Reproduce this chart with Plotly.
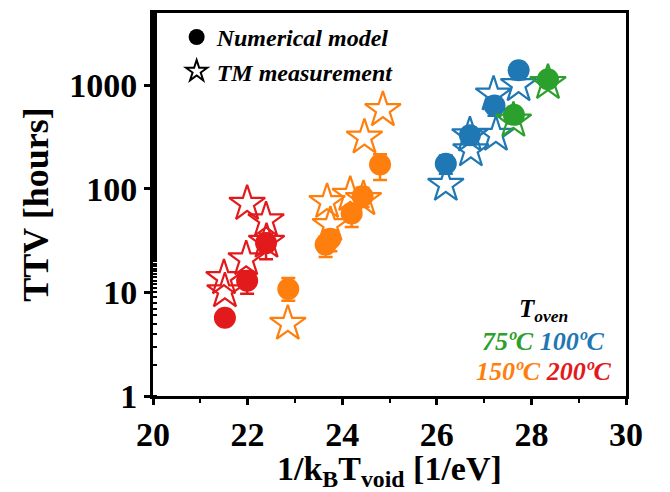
import plotly.graph_objects as go

# ---------------- data ----------------
# Numerical model (circles): x = 1/kBT_void, y = TTV [hours], error up/down
red_model_x = [21.52, 21.99, 22.39]
red_model_y = [5.7, 13.0, 30.0]
red_model_up = [0.8, 3.0, 7.0]
red_model_dn = [0.8, 3.3, 9.0]

orange_model_x = [22.86, 23.65, 23.75, 24.20, 24.43, 24.80]
orange_model_y = [10.8, 29.0, 33.0, 58.0, 85.0, 172.0]
orange_model_up = [3.0, 6.0, 7.0, 12.0, 18.0, 45.0]
orange_model_dn = [2.5, 7.0, 8.0, 15.0, 18.0, 50.0]

blue_model_x = [26.19, 26.70, 27.22, 27.73]
blue_model_y = [175.0, 330.0, 640.0, 1400.0]
blue_model_up = [35.0, 60.0, 130.0, 250.0]
blue_model_dn = [35.0, 60.0, 130.0, 250.0]

green_model_x = [27.63, 28.35]
green_model_y = [520.0, 1150.0]
green_model_up = [90.0, 180.0]
green_model_dn = [90.0, 180.0]

# TM measurement (stars)
red_meas_x = [21.50, 21.52, 21.97, 21.99, 22.39, 22.40]
red_meas_y = [13.8, 10.3, 21.0, 72.0, 50.0, 31.0]

orange_meas_x = [22.85, 23.68, 23.75, 24.17, 24.45, 24.47, 24.86]
orange_meas_y = [5.0, 75.0, 45.0, 88.0, 80.0, 315.0, 580.0]

blue_meas_x = [26.19, 26.70, 26.72, 27.20, 27.25, 27.73]
blue_meas_y = [110.0, 330.0, 237.0, 820.0, 335.0, 1010.0]

green_meas_x = [27.62, 28.35]
green_meas_y = [458.0, 1060.0]

C_RED = "#e31a1c"
C_ORANGE = "#ff7f0e"
C_BLUE = "#1f77b4"
C_GREEN = "#2ca02c"

FONT = "Liberation Serif, Times New Roman, serif"

fig = go.Figure()


def add_model(x, y, up, dn, color):
    fig.add_trace(go.Scatter(
        x=x, y=y, mode="markers", showlegend=False,
        marker=dict(symbol="circle", size=22, color=color,
                    line=dict(width=0)),
        error_y=dict(type="data", array=up, arrayminus=dn, symmetric=False,
                     color=color, thickness=2.5, width=7),
    ))


def add_meas(x, y, color):
    fig.add_trace(go.Scatter(
        x=x, y=y, mode="markers", showlegend=False,
        marker=dict(symbol="star-open", size=27, color=color,
                    line=dict(width=2.2, color=color)),
    ))


add_model(red_model_x, red_model_y, red_model_up, red_model_dn, C_RED)
add_model(orange_model_x, orange_model_y, orange_model_up, orange_model_dn, C_ORANGE)
add_model(blue_model_x, blue_model_y, blue_model_up, blue_model_dn, C_BLUE)
add_model(green_model_x, green_model_y, green_model_up, green_model_dn, C_GREEN)

add_meas(red_meas_x, red_meas_y, C_RED)
add_meas(orange_meas_x, orange_meas_y, C_ORANGE)
add_meas(blue_meas_x, blue_meas_y, C_BLUE)
add_meas(green_meas_x, green_meas_y, C_GREEN)

# legend entries
fig.add_trace(go.Scatter(
    x=[None], y=[None], mode="markers", name="Numerical model",
    marker=dict(symbol="circle", size=20, color="black")))
fig.add_trace(go.Scatter(
    x=[None], y=[None], mode="markers", name="TM measurement",
    marker=dict(symbol="star-open", size=22, color="black",
                line=dict(width=2, color="black"))))

axis_common = dict(
    showline=True, linecolor="black", linewidth=3, mirror=True,
    showgrid=False, zeroline=False,
    ticks="outside", ticklen=6, tickwidth=2.5, tickcolor="black",
    tickfont=dict(family=FONT, size=34, color="black", weight="bold"),
)

fig.update_layout(
    width=670, height=492,
    margin=dict(l=153, r=44, t=10, b=96),
    paper_bgcolor="white", plot_bgcolor="white",
    xaxis=dict(
        range=[20, 30], dtick=2, tick0=20,
        minor=dict(ticks="outside", ticklen=4, tickwidth=2, dtick=1,
                   tickcolor="black", showgrid=False),
        **axis_common,
    ),
    yaxis=dict(
        type="log", range=[0, 3.7],
        tickvals=[1, 10, 100, 1000], ticktext=["1", "10", "100", "1000"],
        minor=dict(ticks="inside", ticklen=4, tickwidth=1.5,
                   tickcolor="black", showgrid=False),
        title=dict(text="TTV [hours]",
                   font=dict(family=FONT, size=36, color="black", weight="bold"),
                   standoff=10),
        **axis_common,
    ),
    legend=dict(
        x=0.05, y=0.995, xanchor="left", yanchor="top",
        bgcolor="rgba(0,0,0,0)", borderwidth=0,
        font=dict(family=FONT, size=24, color="black", weight="bold",
                  style="italic"),
        itemsizing="trace", tracegroupgap=0,
    ),
    annotations=[
        dict(xref="paper", yref="paper", x=0.5, y=-0.197,
             xanchor="center", yanchor="middle", showarrow=False,
             text="1/k<sub>B</sub>T<sub>void</sub> [1/eV]",
             font=dict(family=FONT, size=34, color="black", weight="bold")),
        dict(xref="paper", yref="paper", x=0.825, y=0.222,
             xanchor="center", yanchor="middle", showarrow=False,
             text="T<sub>oven</sub>",
             font=dict(family=FONT, size=25, color="black", weight="bold",
                       style="italic")),
        dict(xref="paper", yref="paper", x=0.825, y=0.1425,
             xanchor="center", yanchor="middle", showarrow=False,
             text=f'<span style="color:{C_GREEN}">75ºC</span> '
                  f'<span style="color:{C_BLUE}">100ºC</span>',
             font=dict(family=FONT, size=26, weight="bold", style="italic")),
        dict(xref="paper", yref="paper", x=0.825, y=0.065,
             xanchor="center", yanchor="middle", showarrow=False,
             text=f'<span style="color:{C_ORANGE}">150ºC</span> '
                  f'<span style="color:{C_RED}">200ºC</span>',
             font=dict(family=FONT, size=26, weight="bold", style="italic")),
    ],
)

fig.write_html("out.html")
